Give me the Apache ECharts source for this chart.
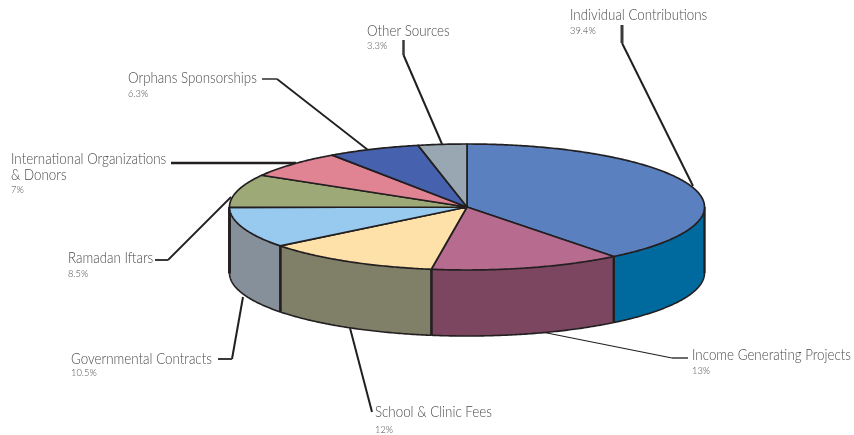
<!DOCTYPE html>
<html>
<head>
<meta charset="utf-8">
<style>
  html, body { margin: 0; padding: 0; background: #fff; }
  #chart { width: 854px; height: 435px; }
</style>
<script src="https://cdn.jsdelivr.net/npm/echarts@6/dist/echarts.min.js"></script>
</head>
<body>
<div id="chart"></div>
<script>
// chart data, clockwise from 12 o'clock
var categories = [
  'Individual Contributions',
  'Income Generating Projects',
  'School & Clinic Fees',
  'Governmental Contracts',
  'Ramadan Iftars',
  'International Organizations\n& Donors',
  'Orphans Sponsorships',
  'Other Sources'
]
var values = [39.4, 13, 12, 10.5, 8.5, 7, 6.3, 3.3]
var percentLabels = ['39.4%', '13%', '12%', '10.5%', '8.5%', '7%', '6.3%', '3.3%']

// colours
var topColors = ['#5B80BF', '#B76B8F', '#FDE1A9', '#98C9EE', '#9DA976', '#E08393', '#4661AD', '#98A7B1']
var wallColors = ['#006A9E', '#7C4560', '#808069', '#86909B', '#86909B', '#86909B', '#86909B', '#86909B']

// pie geometry
var cx = 467
var cy = 207
var rx = 237.5
var ry = 63
var depth = 66
var ink = '#231F20'
var textColor = '#4D4D4F'

// label layout: left, name y, percent y
var labelPos = [
  [570, 15, 31],
  [692, 355, 371],
  [375, 412, 430],
  [71, 359, 373],
  [68, 258, 274],
  [11, 159, 190],
  [128, 78, 94],
  [367, 31, 46]
]

// leader lines, thin run plus the short stub near the text
var leaders = [
  { pts: [[622, 43], [693, 186]], w: 2, stub: [[622, 25], [622, 43]], sw: 3 },
  { pts: [[542, 332], [672, 358]], w: 1.2, stub: [[672, 358], [688, 358]], sw: 1.5 },
  { pts: [[350, 328], [372, 412]], w: 2 },
  { pts: [[243, 297], [232, 359]], w: 2, stub: [[218, 359], [232, 359]], sw: 2 },
  { pts: [[231, 197], [168, 260]], w: 1.8, stub: [[155, 260], [168, 260]], sw: 2 },
  { pts: [[171, 163], [296, 163]], w: 2.5 },
  { pts: [[277, 79], [368, 150]], w: 1.8, stub: [[262, 79], [277, 79]], sw: 1.6 },
  { pts: [[403.5, 55], [442, 144]], w: 2, stub: [[403.5, 40], [403.5, 55]], sw: 2.5 }
]

var total = values.reduce(function (a, b) { return a + b }, 0)

function startAngle(i) {
  var sum = 0
  for (var k = 0; k < i; k++) sum += values[k]
  return sum / total * Math.PI * 2
}

// angle is measured clockwise from the top of the ellipse
function rim(a, dy) {
  return [cx + rx * Math.sin(a), cy - ry * Math.cos(a) + (dy || 0)]
}

function arcPoints(a0, a1, dy) {
  var pts = []
  var n = Math.max(2, Math.ceil((a1 - a0) / 0.01))
  for (var k = 0; k <= n; k++) pts.push(rim(a0 + (a1 - a0) * k / n, dy))
  return pts
}

function line(pts, w, color) {
  return {
    type: 'polyline',
    shape: { points: pts },
    style: { stroke: color || ink, lineWidth: w, fill: null }
  }
}

function textEl(str, x, y, size) {
  return {
    type: 'text',
    x: x,
    y: y,
    scaleX: 0.89,
    style: {
      text: str,
      x: 0,
      y: 0,
      fill: textColor,
      font: '300 ' + size + 'px Lato',
      textAlign: 'left',
      textVerticalAlign: 'middle'
    }
  }
}

function renderWall(params, api) {
  var i = params.dataIndex
  var a0 = Math.max(startAngle(i), Math.PI / 2)
  var a1 = Math.min(startAngle(i) + api.value(0) / total * Math.PI * 2, Math.PI * 1.5)
  if (a1 <= a0) return { type: 'group', children: [] }
  var upper = arcPoints(a0, a1, 0)
  var lower = arcPoints(a0, a1, depth).reverse()
  return {
    type: 'group',
    children: [
      {
        type: 'polygon',
        shape: { points: upper.concat(lower) },
        style: { fill: wallColors[i], stroke: null }
      },
      line(lower, 1.6),
      line([rim(a0, 0), rim(a0, depth)], 2.4),
      line([rim(a1, 0), rim(a1, depth)], 2.4)
    ]
  }
}

function renderTop(params, api) {
  var i = params.dataIndex
  var a0 = startAngle(i)
  var a1 = a0 + api.value(0) / total * Math.PI * 2
  return {
    type: 'polygon',
    shape: { points: [[cx, cy]].concat(arcPoints(a0, a1, 0)) },
    style: { fill: topColors[i], stroke: ink, lineWidth: 1.7, lineJoin: 'round' }
  }
}

function renderLabel(params) {
  var i = params.dataIndex
  var pos = labelPos[i]
  var lines = categories[i].split('\n')
  var lead = leaders[i]
  var kids = [line(lead.pts, lead.w)]
  if (lead.stub) kids.push(line(lead.stub, lead.sw, '#3A3A3C'))
  lines.forEach(function (t, k) {
    kids.push(textEl(t, pos[0], pos[1] + k * 16, 15))
  })
  kids.push(textEl(percentLabels[i], pos[0], pos[2], 10.5))
  return { type: 'group', children: kids }
}

var rows = values.map(function (v) { return [v] })
var chart = echarts.init(document.getElementById('chart'))
chart.setOption({
  animation: false,
  backgroundColor: '#fff',
  series: [
    { type: 'custom', coordinateSystem: 'none', z: 1, silent: true, data: rows, renderItem: renderLabel },
    { type: 'custom', coordinateSystem: 'none', z: 2, silent: true, data: rows, renderItem: renderWall },
    { type: 'custom', coordinateSystem: 'none', z: 3, silent: true, data: rows, renderItem: renderTop }
  ]
})
</script>
</body>
</html>
